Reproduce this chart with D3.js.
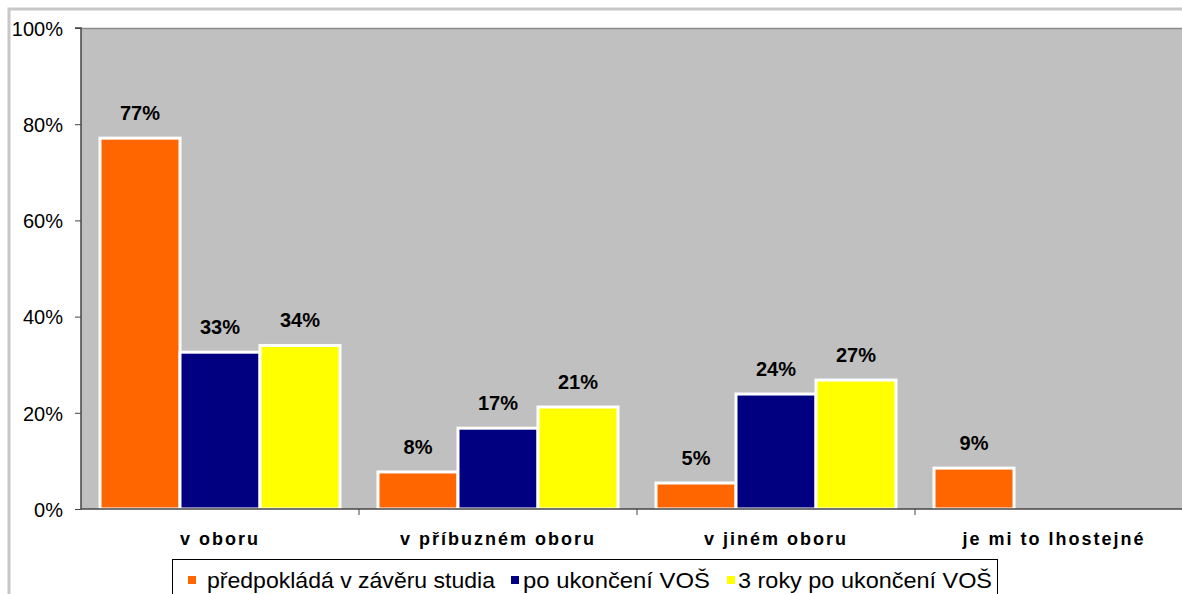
<!DOCTYPE html>
<html><head><meta charset="utf-8">
<script src="https://cdn.jsdelivr.net/npm/d3@7"></script>
<style>body{margin:0;background:#fff;}svg{display:block;font-family:Arial,"Liberation Sans",sans-serif;}</style>
</head><body>
<svg id="c" width="1182" height="594"></svg>
<script>
const categories = ["v oboru", "v příbuzném oboru", "v jiném oboru", "je mi to lhostejné"];
const seriesNames = ["předpokládá v závěru studia", "po ukončení VOŠ", "3 roky po ukončení VOŠ"];
const seriesColors = ["#FF6600", "#000080", "#FFFF00"];
const predpoklada = [77.1, 7.7, 5.4, 8.5];
const poUkonceni = [32.6, 16.8, 23.9, null];
const triRoky = [34.0, 21.2, 26.8, null];
const yTicks = [0, 20, 40, 60, 80, 100];

(function () {
const series = [predpoklada, poUkonceni, triRoky];
const svg = d3.select("#c");

// outer chart border
svg.append("rect").attr("x", 9).attr("y", 9).attr("width", 1200).attr("height", 620)
  .attr("fill", "#fff").attr("stroke", "#c8c8c8").attr("stroke-width", 3);

const pLeft = 81, pTop = 28, pBottom = 509, bandW = 278;
const x = d3.scaleBand().domain(categories).range([pLeft, pLeft + bandW * 4]).padding(0);
const xs = d3.scaleBand().domain(seriesNames).range([19, 259]).padding(0);
const y = d3.scaleLinear().domain([0, 100]).range([pBottom, pTop]);

// plot area
svg.append("rect").attr("x", pLeft).attr("y", pTop).attr("width", 1200).attr("height", pBottom - pTop)
  .attr("fill", "#C0C0C0");
svg.append("line").attr("x1", pLeft).attr("x2", 1182).attr("y1", pTop + 0.5).attr("y2", pTop + 0.5)
  .attr("stroke", "#8a8a8a").attr("stroke-width", 1.5);

// bars
const rows = [];
categories.forEach((c, i) => series.forEach((s, j) => {
  if (s[i] != null) rows.push({c, name: seriesNames[j], v: s[i], color: seriesColors[j]});
}));
const g = svg.append("g");
g.selectAll("rect").data(rows).join("rect")
  .attr("x", d => x(d.c) + xs(d.name))
  .attr("y", d => y(d.v))
  .attr("width", xs.bandwidth())
  .attr("height", d => pBottom - y(d.v))
  .attr("fill", d => d.color)
  .attr("stroke", "#fff").attr("stroke-width", 3);

g.selectAll("text").data(rows).join("text")
  .attr("x", d => x(d.c) + xs(d.name) + xs.bandwidth() / 2)
  .attr("y", d => y(d.v) - 18)
  .attr("text-anchor", "middle")
  .attr("font-size", 20).attr("font-weight", "bold").attr("fill", "#000")
  .text(d => Math.round(d.v) + "%");

// y axis
const yAxis = d3.axisLeft(y).tickValues(yTicks).tickFormat(d => d + "%").tickSize(6).tickPadding(12);
const ya = svg.append("g").attr("transform", `translate(${pLeft},0)`).call(yAxis);
ya.select(".domain").attr("stroke", "#444").attr("stroke-width", 1.5).attr("d", `M-6,${pTop}H0V${pBottom}`);
ya.selectAll(".tick line").attr("stroke", "#444");
ya.selectAll("text").attr("font-size", 20).attr("dy", "0.36em")
  .attr("font-family", "Arial, 'Liberation Sans', sans-serif").attr("fill", "#000");

// x axis
const xAxis = d3.axisBottom(x).tickSize(0).tickPadding(22);
const xa = svg.append("g").attr("transform", `translate(0,${pBottom})`).call(xAxis);
xa.select(".domain").attr("stroke", "#444").attr("stroke-width", 1.5).attr("d", `M${pLeft},0H1182`);
xa.selectAll("text").attr("font-size", 18).attr("font-weight", "bold")
  .attr("letter-spacing", "2px").attr("dy", "0.75em")
  .attr("font-family", "Arial, 'Liberation Sans', sans-serif").attr("fill", "#000");
xa.selectAll(".bnd").data(categories.slice(1)).join("line").attr("class", "bnd")
  .attr("x1", d => x(d)).attr("x2", d => x(d)).attr("y1", 0).attr("y2", 6).attr("stroke", "#444");

// legend
const lg = svg.append("g");
lg.append("rect").attr("x", 172.5).attr("y", 559.5).attr("width", 825).attr("height", 42)
  .attr("fill", "#fff").attr("stroke", "#000").attr("stroke-width", 1);
const legSqX = [188, 511, 727];
const legTextX = [207, 523, 738];
const legTextW = [288, 187, 254];
seriesNames.forEach((n, i) => {
  lg.append("rect").attr("x", legSqX[i]).attr("y", 576).attr("width", 8).attr("height", 8).attr("fill", seriesColors[i]);
  lg.append("text").attr("x", legTextX[i]).attr("y", 588).attr("font-size", 22)
    .attr("textLength", legTextW[i]).attr("lengthAdjust", "spacingAndGlyphs")
    .attr("fill", "#000").text(n);
});
})();
</script>
</body></html>
